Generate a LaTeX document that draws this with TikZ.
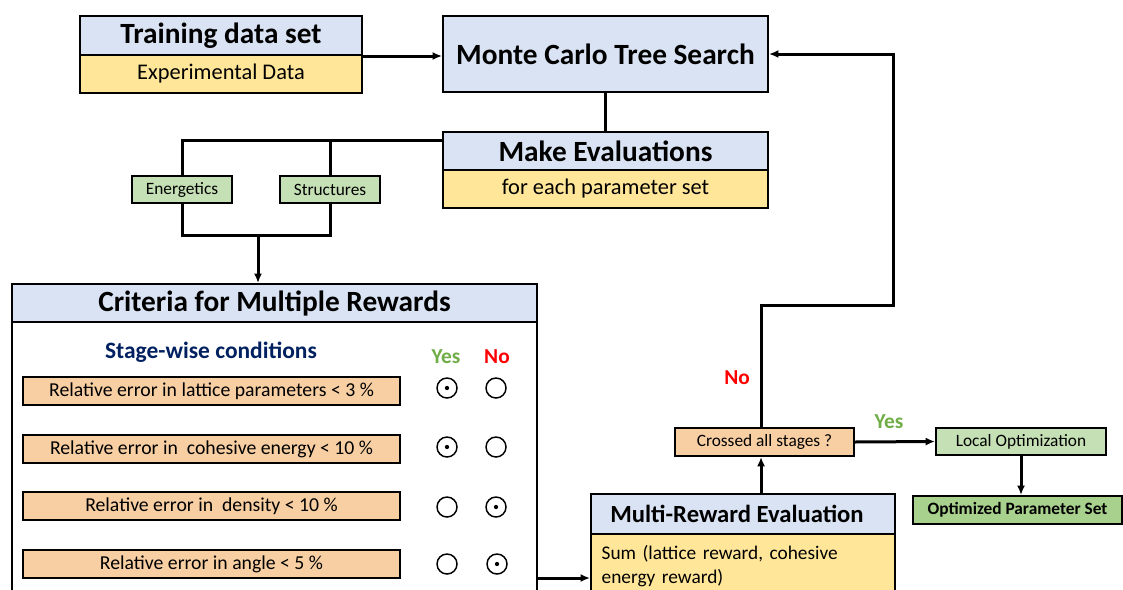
\documentclass[tikz,border=0pt]{standalone}
\usepackage{fontspec}
\setmainfont{Carlito}
\usetikzlibrary{arrows.meta}
\definecolor{hdrblue}{HTML}{DAE3F3}
\definecolor{subyellow}{HTML}{FFE699}
\definecolor{condorange}{HTML}{F8CFA3}
\definecolor{lightgreen}{HTML}{C5E0B4}
\definecolor{darkgreen}{HTML}{A9D18E}
\definecolor{stageblue}{HTML}{002060}
\definecolor{yesgreen}{HTML}{70AD47}
\definecolor{nored}{HTML}{FF0000}
\tikzset{
  box/.style={draw, line width=1.5pt, inner sep=0pt, anchor=north west, align=center},
  title/.style={font=\fontsize{22}{24}\selectfont\bfseries},
  subtext/.style={font=\fontsize{16.8}{19}\selectfont},
  small/.style={font=\fontsize{13}{15}\selectfont},
  cond/.style={box, fill=condorange, minimum width=282.75pt, minimum height=21pt, font=\fontsize{14.8}{17}\selectfont},
  link/.style={line width=2.25pt},
  flow/.style={line width=2.25pt, -{Latex[length=7pt,width=6pt]}},
  radio/.style={line width=1.1pt}
}

\begin{document}
\begin{tikzpicture}[x=0.75pt, y=-0.75pt]
  %%%%% START %%%%%
  \useasboundingbox (0,0) rectangle (1123,589);

  % training data and search
  \node[box, fill=hdrblue, title, minimum width=211.5pt, minimum height=29.25pt] (trainhdr) at (79,15) {Training data set};
  \node[box, fill=subyellow, subtext, minimum width=211.5pt, minimum height=28.5pt] (trainsub) at (79,54) {Experimental Data};
  \node[box, fill=hdrblue, title, minimum width=243.75pt, minimum height=57pt] (mcts) at (442,15) {Monte Carlo Tree Search};
  \node[box, fill=hdrblue, title, minimum width=243.75pt, minimum height=28.5pt] (evalhdr) at (442,131) {Make Evaluations};
  \node[box, fill=subyellow, subtext, minimum width=243.75pt, minimum height=28.5pt] (evalsub) at (442,169) {for each parameter set};

  \node[box, fill=lightgreen, small, minimum width=75pt, minimum height=20.25pt] (energ) at (131,175) {Energetics};
  \node[box, fill=lightgreen, small, minimum width=75pt, minimum height=20.25pt] (struct) at (279,175) {Structures};

  % criteria panel
  \node[box, fill=hdrblue, title, minimum width=393.75pt, minimum height=28.5pt] (crithdr) at (11,283) {Criteria for Multiple Rewards};
  \node[box, minimum width=393.75pt, minimum height=210pt] (critbody) at (11,321) {};
  \node[font=\fontsize{17.6}{19}\selectfont\bfseries, text=stageblue] (stage) at (211,352) {Stage-wise conditions};
  \node[font=\fontsize{16}{18}\selectfont\bfseries, text=yesgreen] (yeshead) at (446,357) {Yes};
  \node[font=\fontsize{16}{18}\selectfont\bfseries, text=nored] (nohead) at (497,357) {No};

  \node[cond] (lattice) at (22,376) {Relative error in lattice parameters < 3 \%};
  \node[cond] (cohesive) at (22,434) {Relative error in~ cohesive energy < 10 \%};
  \node[cond] (density) at (22,491) {Relative error in~ density < 10 \%};
  \node[cond] (angle) at (22,549) {Relative error in angle < 5 \%};

  \draw[radio] (447,388) circle (7.5pt);
  \draw[radio] (496,388) circle (7.5pt);
  \fill (447,388) circle (1.6pt);
  \draw[radio] (447,447) circle (7.5pt);
  \draw[radio] (496,447) circle (7.5pt);
  \fill (447,447) circle (1.6pt);
  \draw[radio] (447,507) circle (7.5pt);
  \draw[radio] (496,507) circle (7.5pt);
  \fill (496,507) circle (1.6pt);
  \draw[radio] (447,564) circle (7.5pt);
  \draw[radio] (497,564) circle (7.5pt);
  \fill (497,564) circle (1.6pt);

  % reward evaluation and decision
  \node[box, fill=hdrblue, font=\fontsize{18.5}{20}\selectfont\bfseries, minimum width=228pt, minimum height=30pt] (multihdr) at (590,493) {Multi-Reward Evaluation\hspace*{9pt}};
  \node[box, fill=subyellow, font=\fontsize{14.5}{17.5}\selectfont, align=left, text width=212pt, inner xsep=8pt, minimum height=48pt] (multibody) at (590,533) {Sum (lattice reward, cohesive\\energy reward)};
  \node[box, fill=condorange, small, minimum width=134.25pt, minimum height=21pt] (crossed) at (674,427) {Crossed all stages ?};
  \node[box, fill=lightgreen, small, minimum width=127.5pt, minimum height=20.25pt] (localopt) at (935,427) {Local Optimization};
  \node[box, fill=darkgreen, font=\fontsize{13}{15}\selectfont\bfseries, minimum width=156.75pt, minimum height=21pt] (optset) at (912,495) {Optimized Parameter Set};

  \node[font=\fontsize{16}{18}\selectfont\bfseries, text=yesgreen] (yeslbl) at (889,422) {Yes};
  \node[font=\fontsize{16}{18}\selectfont\bfseries, text=nored] (nolbl) at (737,378) {No};

  % connectors
  \coordinate (evalport) at ([yshift=-6.75pt]evalhdr.north west);
  \coordinate (merge) at (258,235);
  \coordinate (loop) at (893,305);

  \draw[flow] (trainhdr.south east) -- (trainhdr.south east -| mcts.west);
  \draw[link] (mcts.south) -- (evalhdr.north);
  \draw[link] (evalport) -| (energ.north);
  \draw[link] (struct.north) -- (struct.north |- evalport);
  \draw[link] (energ.south) |- (struct.south |- merge) -- (struct.south);
  \draw[flow] (merge) -- (merge |- crithdr.north);
  \draw[flow] ([yshift=-9pt]multibody.west -| critbody.east) -- ([yshift=-9pt]multibody.west);
  \draw[flow] ([xshift=-2.6pt]crossed.south |- multihdr.north) -- ([xshift=-2.6pt]crossed.south);
  \draw[flow] (crossed.east) -- (localopt.west);
  \draw[flow] (localopt.south) -- (localopt.south |- optset.north);
  \draw[flow] ([xshift=-2.6pt]crossed.north) |- (loop) |- (mcts.east);

  %%%%% END %%%%%
\end{tikzpicture}
\end{document}
